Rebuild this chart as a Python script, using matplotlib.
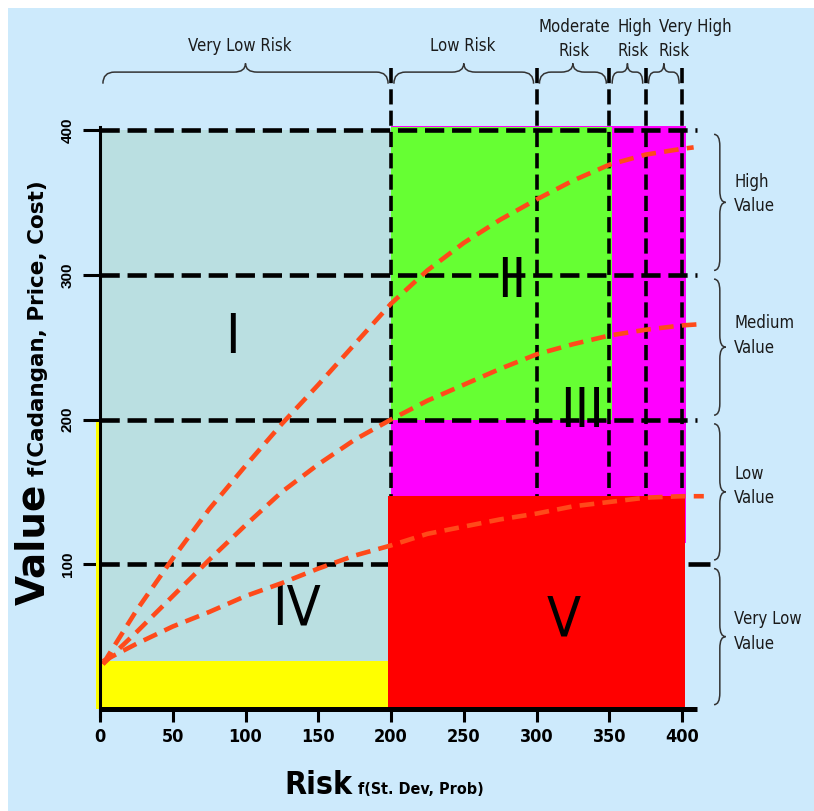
import matplotlib
matplotlib.use('agg')
import matplotlib.pyplot as plt
from matplotlib.patches import Rectangle, PathPatch
from matplotlib.path import Path

########
# Data #
########

risk_ticks = [0, 50, 100, 150, 200, 250, 300, 350, 400]
value_ticks = [100, 200, 300, 400]

# risk classes along the top (x ranges) and value classes on the right (y ranges)
risk_bounds = [0, 200, 300, 350, 375, 400]
risk_labels = ['Very Low Risk', 'Low Risk', 'Moderate\nRisk', 'High\nRisk', 'Very High\nRisk']
value_bounds = [0, 100, 200, 300, 400]
value_labels = ['Very Low\nValue', 'Low\nValue', 'Medium\nValue', 'High\nValue']

# coloured zones (x0, x1, y0, y1)
zone_bluegray = (0, 200, 0, 400)
zone_yellow = (0, 198, 0, 33)
zone_green = (200, 352, 200, 402)
zone_magenta = (200, 403, 115, 403)
zone_red = (198, 402, 0, 147)

zone_names = ['I', 'II', 'III', 'IV', 'V']

# the three dashed trend curves
curve_high_x = [2, 25, 50, 75, 100, 125, 150, 175, 200, 225, 250, 275, 300, 325, 350, 375, 400, 408]
curve_high_y = [31, 68, 104, 138, 168, 197, 224, 252, 280, 303, 322, 338, 352, 365, 376, 383, 387, 388]
curve_mid_x = [2, 25, 50, 75, 100, 125, 150, 175, 200, 225, 250, 275, 300, 325, 350, 375, 400, 415]
curve_mid_y = [31, 53, 78, 103, 127, 150, 169, 186, 200, 213, 224, 235, 245, 252, 258, 262, 265, 266]
curve_low_x = [2, 25, 50, 75, 100, 125, 150, 175, 200, 225, 250, 275, 300, 325, 350, 375, 400, 415]
curve_low_y = [33, 45, 57, 67, 78, 87, 97, 106, 113, 121, 126, 131, 135, 140, 143, 146, 147, 147]

##########
# Styles #
##########

bg = '#cdeafc'
narrow = dict(family='DejaVu Sans', fontstretch='condensed')
dash_kw = dict(color='black', lw=3.3, dashes=(4.2, 1.7), solid_capstyle='butt', clip_on=False)


def brace_h(ax, x0, x1, y, drop, rise):
    # curly brace lying flat, tip pointing up
    xm = (x0 + x1) / 2.0
    r = min(8.0, (x1 - x0) / 5.0)
    verts = [(x0, y - drop), (x0, y), (x0 + r, y), (xm - r, y), (xm, y), (xm, y + rise),
             (xm, y), (xm + r, y), (x1 - r, y), (x1, y), (x1, y - drop)]
    codes = [Path.MOVETO, Path.CURVE3, Path.CURVE3, Path.LINETO, Path.CURVE3, Path.CURVE3,
             Path.CURVE3, Path.CURVE3, Path.LINETO, Path.CURVE3, Path.CURVE3]
    ax.add_patch(PathPatch(Path(verts, codes), fill=False, ec='#333333', lw=1.1, clip_on=False))


def brace_v(ax, y0, y1, x, back, tip):
    # upright curly brace, tip pointing right
    ym = (y0 + y1) / 2.0
    r = min(8.0, (y1 - y0) / 5.0)
    verts = [(x - back, y0), (x, y0), (x, y0 + r), (x, ym - r), (x, ym), (x + tip, ym),
             (x, ym), (x, ym + r), (x, y1 - r), (x, y1), (x - back, y1)]
    codes = [Path.MOVETO, Path.CURVE3, Path.CURVE3, Path.LINETO, Path.CURVE3, Path.CURVE3,
             Path.CURVE3, Path.CURVE3, Path.LINETO, Path.CURVE3, Path.CURVE3]
    ax.add_patch(PathPatch(Path(verts, codes), fill=False, ec='#333333', lw=1.1, clip_on=False))


def rect(ax, zone, color, z):
    x0, x1, y0, y1 = zone
    ax.add_patch(Rectangle((x0, y0), x1 - x0, y1 - y0, facecolor=color, edgecolor='none',
                           zorder=z, clip_on=False))


##########
# Figure #
##########

fig = plt.figure(figsize=(8.14, 8.11), dpi=100)
fig.patch.set_facecolor('white')
fig.add_artist(Rectangle((8 / 814, 0), 1, 803 / 811, transform=fig.transFigure,
                         facecolor=bg, edgecolor='none', zorder=-10))

ax = fig.add_axes([100 / 814, 102 / 811, 582 / 814, 579 / 811])
ax.set_xlim(0, 400)
ax.set_ylim(0, 400)
ax.set_facecolor('none')
for s in ax.spines.values():
    s.set_visible(False)

# zones
rect(ax, zone_bluegray, '#badfe1', 1)
rect(ax, zone_yellow, '#ffff00', 2)
rect(ax, (-3, 0, 0, 198), '#ffff00', 2)
rect(ax, zone_magenta, '#ff00ff', 1)
rect(ax, zone_green, '#66ff33', 1.5)
rect(ax, zone_red, '#ff0000', 10)

# dashed grid
for v in value_ticks[1:]:
    ax.plot([0, 410], [v, v], zorder=3, **dash_kw)
ax.plot([0, 198], [value_ticks[0], value_ticks[0]], zorder=3, **dash_kw)
ax.plot([404, 419], [value_ticks[0], value_ticks[0]], color='black', lw=3.3, zorder=3,
        solid_capstyle='butt', clip_on=False)
for b in risk_bounds[1:]:
    ax.plot([b, b], [443, 0], zorder=3, **dict(dash_kw, lw=2.6))

# roman numerals
num_pos = [(91, 256), (283, 295), (331, 205), (135, 69), (319, 61)]
for name, (nx, ny) in zip(zone_names, num_pos):
    ax.text(nx, ny, name, fontsize=40, ha='center', va='center', zorder=11, **narrow)

# trend curves
for cx, cy in [(curve_high_x, curve_high_y), (curve_mid_x, curve_mid_y), (curve_low_x, curve_low_y)]:
    ax.plot(cx, cy, color='#ff4a1a', lw=3.3, dashes=(3.2, 1.8), zorder=12, clip_on=False)

# axis lines
ax.plot([0, 0], [-5, 402], color='black', lw=2.2, zorder=13, clip_on=False)
ax.plot([0, 410], [0, 0], color='black', lw=3.6, zorder=13, clip_on=False, solid_capstyle='butt')

# ticks
ax.set_xticks(risk_ticks)
ax.set_yticks(value_ticks)
ax.tick_params(axis='x', length=9, width=2.2, pad=5, labelsize=13)
ax.tick_params(axis='y', length=12, width=2.2, pad=6, labelsize=11, labelrotation=90,
               labelfontfamily='Liberation Sans')
plt.setp(ax.get_xticklabels(), fontweight='bold', **narrow)
plt.setp(ax.get_yticklabels(), fontweight='bold', va='center')

# axis titles
ax.text(-38.5, 72, 'Value', rotation=90, rotation_mode='anchor', ha='left', va='baseline',
        fontsize=28, fontweight='bold', family='DejaVu Sans', clip_on=False)
ax.text(-38.5, 161, 'f(Cadangan, Price, Cost)', rotation=90, rotation_mode='anchor', ha='left',
        va='baseline', fontsize=15.5, fontweight='bold', family='DejaVu Sans', clip_on=False)
ax.text(126.5, -59, 'Risk', ha='left', va='baseline', fontsize=23, fontweight='bold',
        clip_on=False, **narrow)
ax.text(177, -59, 'f(St. Dev, Prob)', ha='left', va='baseline', fontsize=11.5, fontweight='bold',
        clip_on=False, **narrow)

# risk class braces and labels on top
top_label_pos = [(96, 458, 'center'), (249.5, 458, 'center'), (326, 463, 'center'),
                 (356, 463, 'left'), (384, 463, 'left')]
for i, lab in enumerate(risk_labels):
    x0, x1 = risk_bounds[i], risk_bounds[i + 1]
    brace_h(ax, x0 + 2, x1 - 2, 440, 8, 6)
    lx, ly, ha = top_label_pos[i]
    ax.text(lx, ly, lab, ha=ha, va='center', fontsize=12, color='#1a1a1a',
            linespacing=1.45, clip_on=False, **narrow)

# value class braces and labels on the right
value_label_y = [53.5, 154, 258, 356]
for i, lab in enumerate(value_labels):
    y0, y1 = value_bounds[i], value_bounds[i + 1]
    brace_v(ax, y0 + 3, y1 - 3, 426, 4, 4)
    ax.text(436, value_label_y[i], lab, ha='left', va='center', fontsize=12,
            color='#1a1a1a', linespacing=1.45, clip_on=False, **narrow)

plt.savefig('out.png', dpi=100)
